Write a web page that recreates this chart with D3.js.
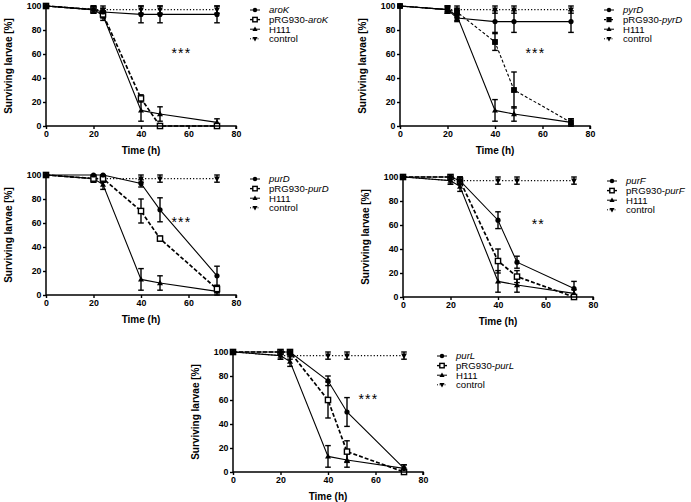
<!DOCTYPE html>
<html lang="en">
<head>
<meta charset="UTF-8">
<title>Galleria survival curves</title>
<script src="https://d3js.org/d3.v7.min.js"></script>
<style>
  body { margin: 0; background: #fff; }
  svg { font-family: "Liberation Sans", Arial, sans-serif; }
</style>
</head>
<body>
<div id="chart"></div>

<script>
// Time points (h) shared by every panel
const times = [0, 20, 24, 40, 48, 72];
const xTicks = [0, 20, 40, 60, 80];
const yTicks = [0, 20, 40, 60, 80, 100];

// Wild type and control (same in all panels)
const h111 = [100, 97, 92, 13, 10, 3];
const h111Err = [0, 3, 4, 9, 6, 3];
const control = [100, 97, 97, 97, 97, 97];
const controlErr = [0, 3, 3, 3, 3, 3];

// aroK panel
const aroK = [100, 97, 95, 93, 93, 93];
const aroKErr = [0, 3, 3, 7, 7, 7];
const pRGaroK = [100, 97, 93, 23, 0, 0];
const pRGaroKErr = [0, 3, 3, 3, 0, 0];

// pyrD panel
const pyrD = [100, 97, 90, 87, 87, 87];
const pyrDErr = [0, 3, 3, 9, 9, 9];
const pRGpyrD = [100, 97, 95, 70, 30, 3];
const pRGpyrDErr = [0, 3, 3, 7, 15, 3];

// purD panel
const purD = [100, 100, 100, 93, 71, 16];
const purDErr = [0, 0, 0, 3, 10, 8];
const pRGpurD = [100, 97, 97, 70, 47, 5];
const pRGpurDErr = [0, 3, 3, 10, 2, 3];

// purF panel
const purF = [100, 100, 97, 64, 29, 7];
const purFErr = [0, 0, 3, 7, 5, 6];
const pRGpurF = [100, 100, 97, 30, 17, 0];
const pRGpurFErr = [0, 0, 3, 10, 5, 0];

// purL panel
const purL = [100, 100, 100, 76, 50, 3];
const purLErr = [0, 0, 0, 4, 12, 3];
const pRGpurL = [100, 100, 100, 60, 17, 0];
const pRGpurLErr = [0, 0, 0, 15, 9, 0];

const genes = ["aroK", "pyrD", "purD", "purF", "purL"];
const stars = ["***", "***", "***", "**", "***"];

const panels = [
  { mut: aroK, mutErr: aroKErr, pRG: pRGaroK, pRGErr: pRGaroKErr, filledSq: false, left: 46, top: 6 },
  { mut: pyrD, mutErr: pyrDErr, pRG: pRGpyrD, pRGErr: pRGpyrDErr, filledSq: true, left: 400, top: 6 },
  { mut: purD, mutErr: purDErr, pRG: pRGpurD, pRGErr: pRGpurDErr, filledSq: false, left: 46, top: 175 },
  { mut: purF, mutErr: purFErr, pRG: pRGpurF, pRGErr: pRGpurFErr, filledSq: false, left: 403, top: 177 },
  { mut: purL, mutErr: purLErr, pRG: pRGpurL, pRGErr: pRGpurLErr, filledSq: false, left: 233, top: 352 }
];

const W = 190, H = 120;

const svg = d3.select("#chart").append("svg")
  .attr("width", 691)
  .attr("height", 502);

function marker(g, type, x, y, filled, s = 1) {
  if (type === "circle") {
    g.append("circle").attr("cx", x).attr("cy", y).attr("r", 2.6 * s).attr("fill", "#000");
  } else if (type === "square") {
    const h = (filled ? 2.2 : 2.6) * s;
    g.append("rect").attr("x", x - h).attr("y", y - h).attr("width", 2 * h).attr("height", 2 * h)
      .attr("fill", filled ? "#000" : "#fff").attr("stroke", "#000").attr("stroke-width", 1.4);
  } else if (type === "up") {
    g.append("path").attr("d", `M${x},${y - 3.2 * s}L${x + 3 * s},${y + 2.2 * s}L${x - 3 * s},${y + 2.2 * s}Z`).attr("fill", "#000");
  } else {
    g.append("path").attr("d", `M${x},${y + 3.2 * s}L${x + 3 * s},${y - 2.2 * s}L${x - 3 * s},${y - 2.2 * s}Z`).attr("fill", "#000");
  }
}

panels.forEach((p, i) => {
  const g = svg.append("g").attr("transform", `translate(${p.left},${p.top})`);

  const x = d3.scaleLinear().domain([0, 80]).range([0, W]);
  const y = d3.scaleLinear().domain([0, 100]).range([H, 0]);

  const series = [
    { vals: control, err: controlErr, dash: "1.2,2", width: 1.1, sym: "down" },
    { vals: h111, err: h111Err, dash: null, width: 1.1, sym: "up" },
    { vals: p.pRG, err: p.pRGErr, dash: p.filledSq ? "3,2" : "4,2", width: p.filledSq ? 1.1 : 1.7, sym: "square" },
    { vals: p.mut, err: p.mutErr, dash: null, width: 1.1, sym: "circle" }
  ];

  const line = d3.line().x((d, j) => x(times[j])).y(d => y(d));

  series.forEach(s => {
    g.append("path")
      .datum(s.vals)
      .attr("d", line)
      .attr("fill", "none")
      .attr("stroke", "#000")
      .attr("stroke-width", s.width)
      .attr("stroke-dasharray", s.dash);
  });

  // error bars
  series.forEach(s => {
    s.vals.forEach((v, j) => {
      const e = s.err[j];
      if (!e) return;
      const cx = x(times[j]);
      const y1 = y(Math.min(100, v + e)), y2 = y(Math.max(0, v - e));
      g.append("line").attr("x1", cx).attr("x2", cx).attr("y1", y1).attr("y2", y2)
        .attr("stroke", "#000").attr("stroke-width", 1.4);
      [y1, y2].forEach(yy => g.append("line").attr("x1", cx - 2.8).attr("x2", cx + 2.8)
        .attr("y1", yy).attr("y2", yy).attr("stroke", "#000").attr("stroke-width", 1.4));
    });
  });

  // markers
  series.forEach(s => {
    s.vals.forEach((v, j) => marker(g, s.sym, x(times[j]), y(v), p.filledSq));
  });

  // axes
  const xAxis = g.append("g").attr("transform", `translate(0,${H})`)
    .call(d3.axisBottom(x).tickValues(xTicks).tickSize(3).tickPadding(2));
  const yAxis = g.append("g")
    .call(d3.axisLeft(y).tickValues(yTicks).tickSize(3).tickPadding(1.5));
  [xAxis, yAxis].forEach(a => {
    a.select(".domain").attr("stroke-width", 1.5);
    a.selectAll(".tick line").attr("stroke-width", 1.4);
    a.selectAll("text").attr("font-size", 8.8).attr("font-weight", "bold")
      .attr("font-family", "Liberation Sans, Arial, sans-serif").attr("fill", "#000");
  });
  xAxis.select(".domain").attr("d", `M0,0H${W}V3`);
  yAxis.select(".domain").attr("d", `M0,0V${H}`);

  // axis titles
  g.append("text")
    .attr("x", W / 2).attr("y", H + 28)
    .attr("text-anchor", "middle")
    .attr("font-size", 10).attr("font-weight", "bold")
    .text("Time (h)");
  g.append("text")
    .attr("transform", "rotate(-90)")
    .attr("x", -H / 2).attr("y", -34)
    .attr("text-anchor", "middle")
    .attr("font-size", 10).attr("font-weight", "bold")
    .text("Surviving larvae [%]");

  // significance
  g.append("text")
    .attr("x", x(57)).attr("y", y(57))
    .attr("text-anchor", "middle")
    .attr("font-size", 14)
    .attr("letter-spacing", 1.2)
    .text(stars[i]);

  // legend
  const leg = g.append("g").attr("transform", `translate(${W + 14},${4})`);
  const legItems = [
    { sym: "circle", dash: null, w: 1, label: [[genes[i], "italic"]] },
    { sym: "square", dash: p.filledSq ? "2,1.5" : null, w: 1.4, label: [["pRG930-", "normal"], [genes[i], "italic"]] },
    { sym: "up", dash: null, w: 1, label: [["H111", "normal"]] },
    { sym: "down", dash: "1,1.5", w: 1, label: [["control", "normal"]] }
  ];
  legItems.forEach((it, k) => {
    const ly = k * 9.6;
    leg.append("line").attr("x1", 0).attr("x2", 10).attr("y1", ly).attr("y2", ly)
      .attr("stroke", "#000").attr("stroke-width", it.w).attr("stroke-dasharray", it.dash);
    marker(leg, it.sym, 5, ly, p.filledSq, 0.85);
    const t = leg.append("text").attr("x", 19).attr("y", ly + 3.4).attr("font-size", 9.6);
    it.label.forEach(([txt, st]) => t.append("tspan").attr("font-style", st).text(txt));
  });
});
</script>
</body>
</html>
